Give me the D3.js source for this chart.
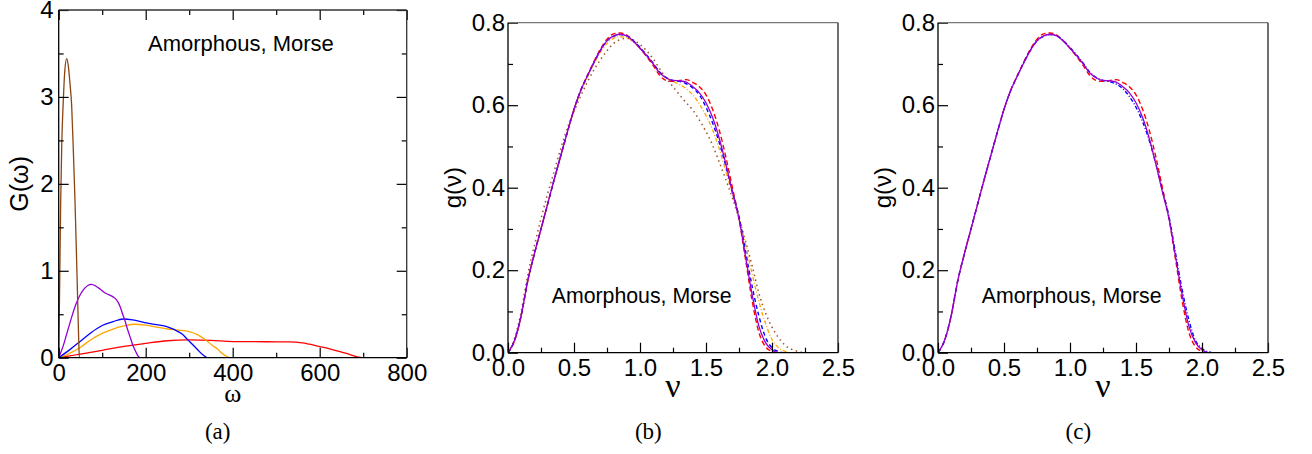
<!DOCTYPE html>
<html>
<head>
<meta charset="utf-8">
<script src="https://cdn.jsdelivr.net/npm/d3@7"></script>
<style>
    body { margin: 0; background: #fff; }
    svg { display: block; }
</style>
</head>
<body>
<svg id="chart" width="1312" height="454"></svg>
<script>
// ---- panel (a): G(omega) ----
const aTicksX = [0, 200, 400, 600, 800];
const aMinorX = [100, 300, 500, 700];
const aTicksY = [0, 1, 2, 3, 4];
const aMinorY = [0.5, 1.5, 2.5, 3.5];

const aBrown = [[0,0],[2,0.75],[4.6,1.8],[7,2.45],[10.6,2.96],[14,3.3],[18.4,3.44],[22,3.36],[26,3.15],[29.8,2.9],[33.5,2.4],[37.5,1.8],[40.5,1.25],[43.6,0.66],[46,0.2],[47.5,0],[800,0]];
const aPurple = [[0,0],[10,0.13],[20,0.3],[30,0.47],[40,0.62],[50,0.73],[60,0.8],[67,0.83],[75,0.843],[85,0.825],[95,0.79],[105,0.75],[115,0.725],[125,0.7],[133,0.665],[141,0.59],[147,0.5],[152,0.43],[158,0.33],[164,0.24],[170,0.15],[175.4,0.088],[181,0.03],[187,0],[800,0]];
const aBlue = [[0,0],[25,0.09],[50,0.19],[75,0.29],[100,0.37],[125,0.415],[148,0.445],[170,0.435],[198,0.403],[225,0.38],[250,0.355],[265,0.325],[283,0.275],[297,0.205],[310,0.14],[320,0.088],[332,0.03],[342,0],[800,0]];
const aOrange = [[0,0],[25,0.05],[50,0.12],[75,0.21],[100,0.28],[125,0.33],[150,0.365],[175,0.385],[200,0.375],[225,0.352],[250,0.33],[275,0.318],[300,0.3],[321,0.26],[340,0.195],[352,0.146],[365,0.1],[375,0.05],[387,0.012],[395,0],[800,0]];
const aRed = [[0,0],[50,0.04],[100,0.085],[150,0.13],[200,0.165],[250,0.195],[300,0.205],[350,0.2],[400,0.186],[450,0.184],[500,0.183],[531,0.182],[560,0.17],[600,0.128],[625,0.1],[647,0.07],[670,0.035],[693,0.003],[700,0],[800,0]];

// ---- panels (b), (c): g(nu) ----
const nuTicks = [0, 0.5, 1.0, 1.5, 2.0, 2.5];
const nuMinor = [0.25, 0.75, 1.25, 1.75, 2.25];
const gTicks = [0, 0.2, 0.4, 0.6, 0.8];
const gMinor = [0.1, 0.3, 0.5, 0.7];

const bPurple = [[0,0],[0.05,0.03],[0.1,0.09],[0.15,0.175],[0.2,0.24],[0.25,0.3],[0.3,0.36],[0.35,0.42],[0.4,0.478],[0.45,0.535],[0.5,0.59],[0.55,0.635],[0.6,0.67],[0.65,0.703],[0.7,0.733],[0.75,0.756],[0.8,0.768],[0.85,0.772],[0.9,0.768],[0.95,0.755],[1.0,0.738],[1.05,0.72],[1.1,0.7],[1.15,0.678],[1.2,0.666],[1.25,0.66],[1.3,0.659],[1.35,0.656],[1.4,0.645],[1.45,0.63],[1.5,0.606],[1.55,0.57],[1.6,0.52],[1.65,0.458],[1.7,0.39],[1.75,0.325],[1.8,0.232],[1.85,0.14],[1.9,0.065],[1.95,0.025],[2.0,0.007],[2.05,0],[2.5,0]];
const bRed = [[0,0],[0.05,0.03],[0.1,0.09],[0.15,0.175],[0.2,0.24],[0.25,0.3],[0.3,0.36],[0.35,0.42],[0.4,0.478],[0.45,0.535],[0.5,0.59],[0.55,0.636],[0.6,0.671],[0.65,0.705],[0.7,0.736],[0.75,0.76],[0.8,0.773],[0.85,0.775],[0.9,0.77],[0.95,0.756],[1.0,0.738],[1.05,0.718],[1.1,0.696],[1.15,0.672],[1.2,0.66],[1.25,0.658],[1.3,0.66],[1.35,0.662],[1.4,0.655],[1.45,0.645],[1.5,0.625],[1.55,0.59],[1.6,0.54],[1.65,0.475],[1.7,0.4],[1.75,0.325],[1.8,0.225],[1.85,0.125],[1.9,0.05],[1.95,0.015],[2.0,0.003],[2.02,0],[2.5,0]];
const bBlue = [[0,0],[0.05,0.03],[0.1,0.09],[0.15,0.175],[0.2,0.24],[0.25,0.3],[0.3,0.36],[0.35,0.42],[0.4,0.478],[0.45,0.535],[0.5,0.59],[0.55,0.635],[0.6,0.67],[0.65,0.703],[0.7,0.733],[0.75,0.756],[0.8,0.767],[0.85,0.771],[0.9,0.768],[0.95,0.756],[1.0,0.74],[1.05,0.722],[1.1,0.702],[1.15,0.68],[1.2,0.667],[1.25,0.66],[1.3,0.658],[1.35,0.652],[1.4,0.642],[1.45,0.625],[1.5,0.595],[1.55,0.557],[1.6,0.51],[1.65,0.453],[1.7,0.39],[1.75,0.33],[1.8,0.245],[1.85,0.16],[1.9,0.09],[1.95,0.038],[2.0,0.012],[2.05,0.003],[2.08,0],[2.5,0]];
const bOrange = [[0,0],[0.05,0.03],[0.1,0.09],[0.15,0.175],[0.2,0.24],[0.25,0.3],[0.3,0.36],[0.35,0.42],[0.4,0.478],[0.45,0.535],[0.5,0.588],[0.55,0.632],[0.6,0.667],[0.65,0.7],[0.7,0.728],[0.75,0.75],[0.8,0.762],[0.85,0.766],[0.9,0.764],[0.95,0.753],[1.0,0.738],[1.05,0.72],[1.1,0.7],[1.15,0.68],[1.2,0.666],[1.25,0.658],[1.3,0.65],[1.35,0.64],[1.4,0.625],[1.45,0.603],[1.5,0.575],[1.55,0.54],[1.6,0.495],[1.65,0.44],[1.7,0.385],[1.75,0.33],[1.8,0.262],[1.85,0.19],[1.9,0.125],[1.95,0.072],[2.0,0.032],[2.05,0.012],[2.1,0.003],[2.14,0],[2.5,0]];
const bBrown = [[0,0],[0.05,0.035],[0.1,0.1],[0.15,0.19],[0.2,0.26],[0.25,0.325],[0.3,0.385],[0.35,0.44],[0.4,0.495],[0.45,0.545],[0.5,0.585],[0.55,0.622],[0.6,0.655],[0.65,0.685],[0.7,0.71],[0.75,0.732],[0.8,0.75],[0.85,0.759],[0.9,0.762],[0.95,0.758],[1.0,0.747],[1.05,0.732],[1.1,0.712],[1.15,0.688],[1.2,0.665],[1.25,0.645],[1.3,0.625],[1.35,0.606],[1.4,0.588],[1.45,0.564],[1.5,0.536],[1.55,0.503],[1.6,0.462],[1.65,0.42],[1.7,0.375],[1.75,0.325],[1.8,0.27],[1.85,0.21],[1.9,0.145],[1.95,0.097],[2.0,0.062],[2.05,0.036],[2.1,0.018],[2.15,0.008],[2.2,0.003],[2.25,0],[2.5,0]];
const cBlue = [[0,0],[0.05,0.03],[0.1,0.09],[0.15,0.175],[0.2,0.24],[0.25,0.3],[0.3,0.36],[0.35,0.42],[0.4,0.478],[0.45,0.535],[0.5,0.59],[0.55,0.635],[0.6,0.67],[0.65,0.703],[0.7,0.733],[0.75,0.756],[0.8,0.767],[0.85,0.771],[0.9,0.768],[0.95,0.756],[1.0,0.74],[1.05,0.722],[1.1,0.702],[1.15,0.68],[1.2,0.667],[1.25,0.66],[1.3,0.657],[1.35,0.651],[1.4,0.64],[1.45,0.621],[1.5,0.595],[1.55,0.56],[1.6,0.515],[1.65,0.458],[1.7,0.393],[1.75,0.33],[1.8,0.24],[1.85,0.152],[1.9,0.08],[1.95,0.03],[2.0,0.01],[2.05,0.002],[2.08,0],[2.5,0]];

const sans = '"Liberation Sans", Arial, Helvetica, sans-serif';
const serif = '"Liberation Serif", "Times New Roman", serif';

const svg = d3.select("#chart");

function drawPanel(p) {
    const x = d3.scaleLinear().domain(p.xDomain).range([p.left, p.right]);
    const y = d3.scaleLinear().domain(p.yDomain).range([p.bottom, p.top]);
    const g = svg.append("g");

    const clipId = "clip-" + p.id;
    g.append("clipPath").attr("id", clipId).append("rect")
        .attr("x", p.left).attr("y", p.top - 2)
        .attr("width", p.right - p.left).attr("height", p.bottom - p.top + 2);

    // curves
    const line = d3.line().x(d => x(d[0])).y(d => y(d[1])).curve(d3.curveMonotoneX);
    const lines = g.append("g").attr("clip-path", `url(#${clipId})`);
    p.series.forEach(s => {
        lines.append("path")
            .datum(s.data)
            .attr("fill", "none")
            .attr("stroke", s.color)
            .attr("stroke-width", s.width || 1.3)
            .attr("stroke-dasharray", s.dash || null)
            .attr("d", line);
    });

    // ticks (inward)
    const styleAxis = (sel, labels) => {
        sel.select(".domain").remove();
        sel.selectAll(".tick line").attr("stroke", "#000").attr("stroke-width", 1.2);
        sel.selectAll(".tick text").attr("fill", "#000")
            .style("font-family", sans).style("font-size", labels ? "24px" : "0px");
    };
    g.append("g").attr("transform", `translate(0,${p.bottom})`)
        .call(d3.axisBottom(x).tickValues(p.xTicks).tickSize(-10).tickPadding(6).tickFormat(p.xFmt))
        .call(s => styleAxis(s, true));
    g.append("g").attr("transform", `translate(0,${p.bottom})`)
        .call(d3.axisBottom(x).tickValues(p.xMinor).tickSize(-5).tickFormat(""))
        .call(s => styleAxis(s, false));
    g.append("g").attr("transform", `translate(${p.left},0)`)
        .call(d3.axisLeft(y).tickValues(p.yTicks).tickSize(-10).tickPadding(p.yPad).tickFormat(p.yFmt))
        .call(s => styleAxis(s, true));
    g.append("g").attr("transform", `translate(${p.left},0)`)
        .call(d3.axisLeft(y).tickValues(p.yMinor).tickSize(-5).tickFormat(""))
        .call(s => styleAxis(s, false));

    if (p.mirror) {
        g.append("g").attr("transform", `translate(0,${p.top})`)
            .call(d3.axisTop(x).tickValues(p.xTicks.concat(p.xMinor)).tickSize(-10).tickFormat(""))
            .call(s => styleAxis(s, false))
            .call(s => s.selectAll(".tick line").filter(d => p.xMinor.includes(d)).attr("y2", 5));
        g.append("g").attr("transform", `translate(${p.right},0)`)
            .call(d3.axisRight(y).tickValues(p.yTicks.concat(p.yMinor)).tickSize(-10).tickFormat(""))
            .call(s => styleAxis(s, false))
            .call(s => s.selectAll(".tick line").filter(d => p.yMinor.includes(d)).attr("x2", -5));
    }

    // frame
    g.append("line").attr("x1", p.left).attr("x2", p.right).attr("y1", p.top).attr("y2", p.top)
        .attr("stroke", p.topColor).attr("stroke-width", 1.3);
    g.append("line").attr("x1", p.right).attr("x2", p.right).attr("y1", p.top).attr("y2", p.bottom)
        .attr("stroke", p.rightColor).attr("stroke-width", 1.3);
    g.append("line").attr("x1", p.left).attr("x2", p.right).attr("y1", p.bottom).attr("y2", p.bottom)
        .attr("stroke", "#000").attr("stroke-width", 1.3);
    g.append("line").attr("x1", p.left).attr("x2", p.left).attr("y1", p.top).attr("y2", p.bottom)
        .attr("stroke", "#000").attr("stroke-width", 1.3);

    // annotation
    g.append("text").attr("x", p.note[0]).attr("y", p.note[1])
        .style("font-family", sans).style("font-size", p.noteSize + "px")
        .text("Amorphous, Morse");

    // axis titles
    g.append("text")
        .attr("transform", `translate(${p.yTitlePos[0]},${(p.top + p.bottom) / 2}) rotate(-90)`)
        .attr("text-anchor", "middle")
        .style("font-family", sans).style("font-size", p.yTitleSize + "px")
        .text(p.yTitle);
    g.append("text")
        .attr("x", (p.left + p.right) / 2).attr("y", p.xTitleY)
        .attr("text-anchor", "middle")
        .style("font-family", serif).style("font-size", p.xTitleSize + "px")
        .text(p.xTitle);

    // caption
    g.append("text")
        .attr("x", p.captionX).attr("y", 439)
        .attr("text-anchor", "middle")
        .style("font-family", serif).style("font-size", "23px")
        .text(p.caption);
}

drawPanel({
    id: "a", left: 58.7, right: 406.7, top: 10, bottom: 357.7,
    xDomain: [0, 800], yDomain: [0, 4],
    xTicks: aTicksX, xMinor: aMinorX, yTicks: aTicksY, yMinor: aMinorY,
    xFmt: d3.format("d"), yFmt: d3.format("d"), yPad: 5,
    mirror: true, topColor: "#333", rightColor: "#333",
    series: [
        { data: aRed, color: "#ff0000" },
        { data: aOrange, color: "#ffa500" },
        { data: aBlue, color: "#0000ff" },
        { data: aPurple, color: "#9400d3" },
        { data: aBrown, color: "#8b4513" }
    ],
    note: [148, 51], noteSize: 22,
    yTitle: "G(ω)", yTitlePos: [28], yTitleSize: 25,
    xTitle: "ω", xTitleY: 402, xTitleSize: 26,
    caption: "(a)", captionX: 217.7
});

drawPanel({
    id: "b", left: 508, right: 838, top: 22.7, bottom: 352.7,
    xDomain: [0, 2.5], yDomain: [0, 0.8],
    xTicks: nuTicks, xMinor: nuMinor, yTicks: gTicks, yMinor: gMinor,
    xFmt: d3.format(".1f"), yFmt: d3.format(".1f"), yPad: 3,
    mirror: false, topColor: "#777", rightColor: "#222",
    series: [
        { data: bBrown, color: "#a0522d", dash: "1.5,3.5", width: 1.5 },
        { data: bOrange, color: "#ffa500", dash: "4,2,1,2", width: 1.3 },
        { data: bRed, color: "#ff0000", dash: "5,3", width: 1.4 },
        { data: bBlue, color: "#0000ff", dash: "4,3", width: 1.4 },
        { data: bPurple, color: "#9400d3", width: 1.3 }
    ],
    note: [551.7, 302.7], noteSize: 21.3,
    yTitle: "g(ν)", yTitlePos: [461], yTitleSize: 24,
    xTitle: "ν", xTitleY: 397, xTitleSize: 34,
    caption: "(b)", captionX: 648.3
});

drawPanel({
    id: "c", left: 938, right: 1268, top: 22.7, bottom: 352.7,
    xDomain: [0, 2.5], yDomain: [0, 0.8],
    xTicks: nuTicks, xMinor: nuMinor, yTicks: gTicks, yMinor: gMinor,
    xFmt: d3.format(".1f"), yFmt: d3.format(".1f"), yPad: 3,
    mirror: false, topColor: "#777", rightColor: "#222",
    series: [
        { data: bRed, color: "#ff0000", dash: "5,3", width: 1.4 },
        { data: cBlue, color: "#0000ff", dash: "4,2,1,2", width: 1.4 },
        { data: bPurple, color: "#9400d3", width: 1.3 }
    ],
    note: [981.7, 302.7], noteSize: 21.3,
    yTitle: "g(ν)", yTitlePos: [891], yTitleSize: 24,
    xTitle: "ν", xTitleY: 397, xTitleSize: 34,
    caption: "(c)", captionX: 1078.3
});
</script>
</body>
</html>
